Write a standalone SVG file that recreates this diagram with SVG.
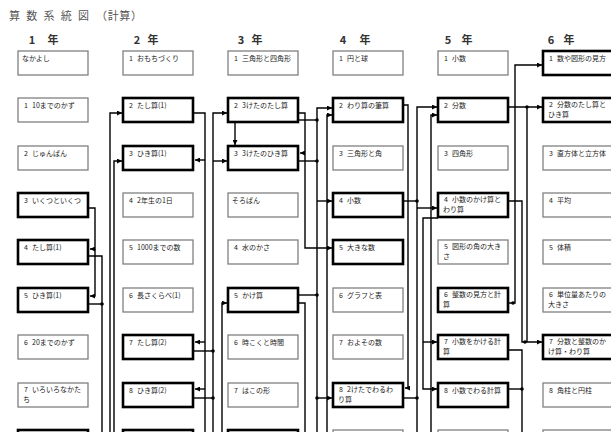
<svg xmlns="http://www.w3.org/2000/svg" width="611" height="432" viewBox="0 0 611 432">
<style>
.t{font-family:"Noto Sans CJK JP","Noto Sans",sans-serif;font-size:7px;fill:#222}
.h{font-family:"Noto Sans CJK JP",sans-serif;font-size:11px;font-weight:bold;fill:#333;text-anchor:middle}
.ti{font-family:"Noto Sans CJK JP",sans-serif;font-size:11px;fill:#555}
.n rect{fill:#fff;stroke:#808080;stroke-width:1.3}
.k rect{fill:#fff;stroke:#000;stroke-width:2.6}
.c path{fill:none;stroke:#000;stroke-width:1.4}
.c circle{fill:#000}
</style>
<defs>
<marker id="a" markerUnits="userSpaceOnUse" markerWidth="5" markerHeight="5" refX="5" refY="2.5" orient="auto">
<path d="M0,0 L5,2.5 L0,5 z" fill="#000"/>
</marker>
</defs>
<rect width="611" height="432" fill="#fff"/>
<text class="ti" x="9" y="20" textLength="80">算数系統図</text>
<text class="ti" x="96" y="20" textLength="46">（計算）</text>
<g id="labels">
<text class="h" x="32" y="44">1</text><text class="h" x="53" y="44">年</text>
<text class="h" x="137" y="44">2</text><text class="h" x="153" y="44">年</text>
<text class="h" x="241" y="44">3</text><text class="h" x="257" y="44">年</text>
<text class="h" x="343" y="44">4</text><text class="h" x="365" y="44">年</text>
<text class="h" x="448" y="44">5</text><text class="h" x="467" y="44">年</text>
<text class="h" x="551" y="44">6</text><text class="h" x="569" y="44">年</text>
</g>
<!-- column 1 -->
<g id="c1r1" class="n"><rect x="18" y="51" width="70" height="24"/><text class="t" x="22" y="61">なかよし</text></g>
<g id="c1r2" class="n"><rect x="18" y="98" width="70" height="24"/><text class="t" x="24" y="108">1</text><text class="t" x="32" y="108">10までのかず</text></g>
<g id="c1r3" class="n"><rect x="18" y="146" width="70" height="24"/><text class="t" x="24" y="156">2</text><text class="t" x="32" y="156">じゅんばん</text></g>
<g id="c1r4" class="k"><rect x="18" y="193" width="70" height="24"/><text class="t" x="24" y="203">3</text><text class="t" x="32" y="203">いくつといくつ</text></g>
<g id="c1r5" class="k"><rect x="18" y="240" width="70" height="24"/><text class="t" x="24" y="250">4</text><text class="t" x="32" y="250">たし算(1)</text></g>
<g id="c1r6" class="k"><rect x="18" y="288" width="70" height="24"/><text class="t" x="24" y="298">5</text><text class="t" x="32" y="298">ひき算(1)</text></g>
<g id="c1r7" class="n"><rect x="18" y="335" width="70" height="24"/><text class="t" x="24" y="345">6</text><text class="t" x="32" y="345">20までのかず</text></g>
<g id="c1r8" class="n"><rect x="18" y="383" width="70" height="24"/><text class="t" x="24" y="392">7</text><text class="t" x="32" y="392">いろいろなかた</text><text class="t" x="23" y="402">ち</text></g>
<g id="c1r9" class="k"><rect x="18" y="430" width="70" height="24"/></g>
<!-- column 2 -->
<g id="c2r1" class="n"><rect x="123" y="51" width="70" height="24"/><text class="t" x="129" y="61">1</text><text class="t" x="137" y="61">おもちづくり</text></g>
<g id="c2r2" class="k"><rect x="123" y="98" width="70" height="24"/><text class="t" x="129" y="108">2</text><text class="t" x="137" y="108">たし算(1)</text></g>
<g id="c2r3" class="k"><rect x="123" y="146" width="70" height="24"/><text class="t" x="129" y="156">3</text><text class="t" x="137" y="156">ひき算(1)</text></g>
<g id="c2r4" class="n"><rect x="123" y="193" width="70" height="24"/><text class="t" x="129" y="203">4</text><text class="t" x="137" y="203">2年生の1日</text></g>
<g id="c2r5" class="n"><rect x="123" y="240" width="70" height="24"/><text class="t" x="129" y="250">5</text><text class="t" x="137" y="250">1000までの数</text></g>
<g id="c2r6" class="n"><rect x="123" y="288" width="70" height="24"/><text class="t" x="129" y="298">6</text><text class="t" x="137" y="298">長さくらべ(1)</text></g>
<g id="c2r7" class="k"><rect x="123" y="335" width="70" height="24"/><text class="t" x="129" y="345">7</text><text class="t" x="137" y="345">たし算(2)</text></g>
<g id="c2r8" class="k"><rect x="123" y="383" width="70" height="24"/><text class="t" x="129" y="393">8</text><text class="t" x="137" y="393">ひき算(2)</text></g>
<g id="c2r9" class="k"><rect x="123" y="430" width="70" height="24"/></g>
<!-- column 3 -->
<g id="c3r1" class="n"><rect x="228" y="51" width="70" height="24"/><text class="t" x="234" y="61">1</text><text class="t" x="242" y="61">三角形と四角形</text></g>
<g id="c3r2" class="k"><rect x="228" y="98" width="70" height="24"/><text class="t" x="234" y="108">2</text><text class="t" x="242" y="108">3けたのたし算</text></g>
<g id="c3r3" class="k"><rect x="228" y="146" width="70" height="24"/><text class="t" x="234" y="156">3</text><text class="t" x="242" y="156">3けたのひき算</text></g>
<g id="c3r4" class="n"><rect x="228" y="193" width="70" height="24"/><text class="t" x="232" y="203">そろばん</text></g>
<g id="c3r5" class="n"><rect x="228" y="240" width="70" height="24"/><text class="t" x="234" y="250">4</text><text class="t" x="242" y="250">水のかさ</text></g>
<g id="c3r6" class="k"><rect x="228" y="288" width="70" height="24"/><text class="t" x="234" y="298">5</text><text class="t" x="242" y="298">かけ算</text></g>
<g id="c3r7" class="n"><rect x="228" y="335" width="70" height="24"/><text class="t" x="234" y="345">6</text><text class="t" x="242" y="345">時こくと時間</text></g>
<g id="c3r8" class="n"><rect x="228" y="383" width="70" height="24"/><text class="t" x="234" y="393">7</text><text class="t" x="242" y="393">はこの形</text></g>
<g id="c3r9" class="k"><rect x="228" y="430" width="70" height="24"/></g>
<!-- column 4 -->
<g id="c4r1" class="n"><rect x="333" y="51" width="70" height="24"/><text class="t" x="339" y="61">1</text><text class="t" x="347" y="61">円と球</text></g>
<g id="c4r2" class="k"><rect x="333" y="98" width="70" height="24"/><text class="t" x="339" y="108">2</text><text class="t" x="347" y="108">わり算の筆算</text></g>
<g id="c4r3" class="n"><rect x="333" y="146" width="70" height="24"/><text class="t" x="339" y="156">3</text><text class="t" x="347" y="156">三角形と角</text></g>
<g id="c4r4" class="k"><rect x="333" y="193" width="70" height="24"/><text class="t" x="339" y="203">4</text><text class="t" x="347" y="203">小数</text></g>
<g id="c4r5" class="k"><rect x="333" y="240" width="70" height="24"/><text class="t" x="339" y="250">5</text><text class="t" x="347" y="250">大きな数</text></g>
<g id="c4r6" class="n"><rect x="333" y="288" width="70" height="24"/><text class="t" x="339" y="298">6</text><text class="t" x="347" y="298">グラフと表</text></g>
<g id="c4r7" class="n"><rect x="333" y="335" width="70" height="24"/><text class="t" x="339" y="345">7</text><text class="t" x="347" y="345">およその数</text></g>
<g id="c4r8" class="k"><rect x="333" y="383" width="70" height="24"/><text class="t" x="339" y="392">8</text><text class="t" x="347" y="392">2けたでわるわ</text><text class="t" x="338" y="402">り算</text></g>
<g id="c4r9" class="n"><rect x="333" y="430" width="70" height="24"/></g>
<!-- column 5 -->
<g id="c5r1" class="n"><rect x="438" y="51" width="70" height="24"/><text class="t" x="444" y="61">1</text><text class="t" x="452" y="61">小数</text></g>
<g id="c5r2" class="k"><rect x="438" y="98" width="70" height="24"/><text class="t" x="444" y="108">2</text><text class="t" x="452" y="108">分数</text></g>
<g id="c5r3" class="n"><rect x="438" y="146" width="70" height="24"/><text class="t" x="444" y="156">3</text><text class="t" x="452" y="156">四角形</text></g>
<g id="c5r4" class="k"><rect x="438" y="193" width="70" height="24"/><text class="t" x="444" y="202">4</text><text class="t" x="452" y="202">小数のかけ算と</text><text class="t" x="443" y="212">わり算</text></g>
<g id="c5r5" class="n"><rect x="438" y="240" width="70" height="24"/><text class="t" x="444" y="249">5</text><text class="t" x="452" y="249">図形の角の大き</text><text class="t" x="443" y="259">さ</text></g>
<g id="c5r6" class="k"><rect x="438" y="288" width="70" height="24"/><text class="t" x="444" y="297">6</text><text class="t" x="452" y="297">整数の見方と計</text><text class="t" x="443" y="307">算</text></g>
<g id="c5r7" class="k"><rect x="438" y="335" width="70" height="24"/><text class="t" x="444" y="344">7</text><text class="t" x="452" y="344">小数をかける計</text><text class="t" x="443" y="354">算</text></g>
<g id="c5r8" class="k"><rect x="438" y="383" width="70" height="24"/><text class="t" x="444" y="393">8</text><text class="t" x="452" y="393">小数でわる計算</text></g>
<g id="c5r9" class="n"><rect x="438" y="430" width="70" height="24"/></g>
<!-- column 6 -->
<g id="c6r1" class="k"><rect x="543" y="51" width="70" height="24"/><text class="t" x="549" y="61">1</text><text class="t" x="557" y="61">数や図形の見方</text></g>
<g id="c6r2" class="k"><rect x="543" y="98" width="70" height="24"/><text class="t" x="549" y="107">2</text><text class="t" x="557" y="107">分数のたし算と</text><text class="t" x="548" y="117">ひき算</text></g>
<g id="c6r3" class="n"><rect x="543" y="146" width="70" height="24"/><text class="t" x="549" y="156">3</text><text class="t" x="557" y="156">直方体と立方体</text></g>
<g id="c6r4" class="n"><rect x="543" y="193" width="70" height="24"/><text class="t" x="549" y="203">4</text><text class="t" x="557" y="203">平均</text></g>
<g id="c6r5" class="n"><rect x="543" y="240" width="70" height="24"/><text class="t" x="549" y="250">5</text><text class="t" x="557" y="250">体積</text></g>
<g id="c6r6" class="n"><rect x="543" y="288" width="70" height="24"/><text class="t" x="549" y="297">6</text><text class="t" x="557" y="297">単位量あたりの</text><text class="t" x="548" y="307">大きさ</text></g>
<g id="c6r7" class="k"><rect x="543" y="335" width="70" height="24"/><text class="t" x="549" y="344">7</text><text class="t" x="557" y="344">分数と整数のか</text><text class="t" x="548" y="354">け算・わり算</text></g>
<g id="c6r8" class="n"><rect x="543" y="383" width="70" height="24"/><text class="t" x="549" y="393">8</text><text class="t" x="557" y="393">角柱と円柱</text></g>
<g id="c6r9" class="n"><rect x="543" y="430" width="70" height="24"/></g>
<!-- connectors -->
<g id="connectors" class="c">
<path d="M88,208 H95 V249 H90" marker-end="url(#a)"/>
<path d="M95,249 V296 H90" marker-end="url(#a)"/>
<path d="M88,256 H102 V432"/>
<path d="M88,304 H102"/>
<circle cx="102" cy="304" r="1.8"/>
<path d="M110,432 V113 H122" marker-end="url(#a)"/>
<path d="M114,432 V161 H122" marker-end="url(#a)"/>
<path d="M193,113 H205 V432"/>
<path d="M205,160 H195" marker-end="url(#a)"/>
<path d="M205,342 H195" marker-end="url(#a)"/>
<path d="M205,389 H195" marker-end="url(#a)"/>
<path d="M193,351 H213"/>
<path d="M193,398 H213"/>
<circle cx="213" cy="351" r="1.8"/>
<circle cx="213" cy="398" r="1.8"/>
<path d="M213,432 V113 H227" marker-end="url(#a)"/>
<path d="M213,161 H227" marker-end="url(#a)"/>
<path d="M222,432 V303 H227" marker-end="url(#a)"/>
<path d="M235,123 V145" marker-end="url(#a)"/>
<path d="M298,113 H305 V248 H332" marker-end="url(#a)"/>
<path d="M305,153 H300" marker-end="url(#a)"/>
<path d="M298,120 H317"/>
<path d="M298,161 H317"/>
<path d="M298,295 H317"/>
<circle cx="317" cy="120" r="1.8"/>
<circle cx="317" cy="161" r="1.8"/>
<circle cx="317" cy="295" r="1.8"/>
<path d="M317,432 V108 H332" marker-end="url(#a)"/>
<path d="M317,201 H332" marker-end="url(#a)"/>
<path d="M317,398 H332" marker-end="url(#a)"/>
<circle cx="317" cy="398" r="1.8"/>
<path d="M327,432 V115 H332" marker-end="url(#a)"/>
<path d="M298,303 H305 V432"/>
<path d="M403,105 H408 V388 H405" marker-end="url(#a)"/>
<path d="M403,201 H417"/>
<circle cx="417" cy="201" r="1.8"/>
<path d="M403,398 H417"/>
<circle cx="417" cy="398" r="1.8"/>
<path d="M417,432 V107 H437" marker-end="url(#a)"/>
<path d="M417,208 H437" marker-end="url(#a)"/>
<path d="M431,432 V115 H437" marker-end="url(#a)"/>
<path d="M438,218 H423 V389 H437" marker-end="url(#a)"/>
<path d="M423,342 H437" marker-end="url(#a)"/>
<path d="M508,107 H542" marker-end="url(#a)"/>
<circle cx="527" cy="107" r="1.8"/>
<path d="M508,303 H515 V65 H542" marker-end="url(#a)"/>
<circle cx="513" cy="303" r="1.8"/>
<path d="M508,201 H522 V342 H542" marker-end="url(#a)"/>
<path d="M527,107 V342"/>
<circle cx="525" cy="342" r="1.8"/>
<path d="M508,350 H522 V432"/>
<path d="M508,389 H522"/>
<circle cx="522" cy="389" r="1.8"/>
</g>
</svg>
